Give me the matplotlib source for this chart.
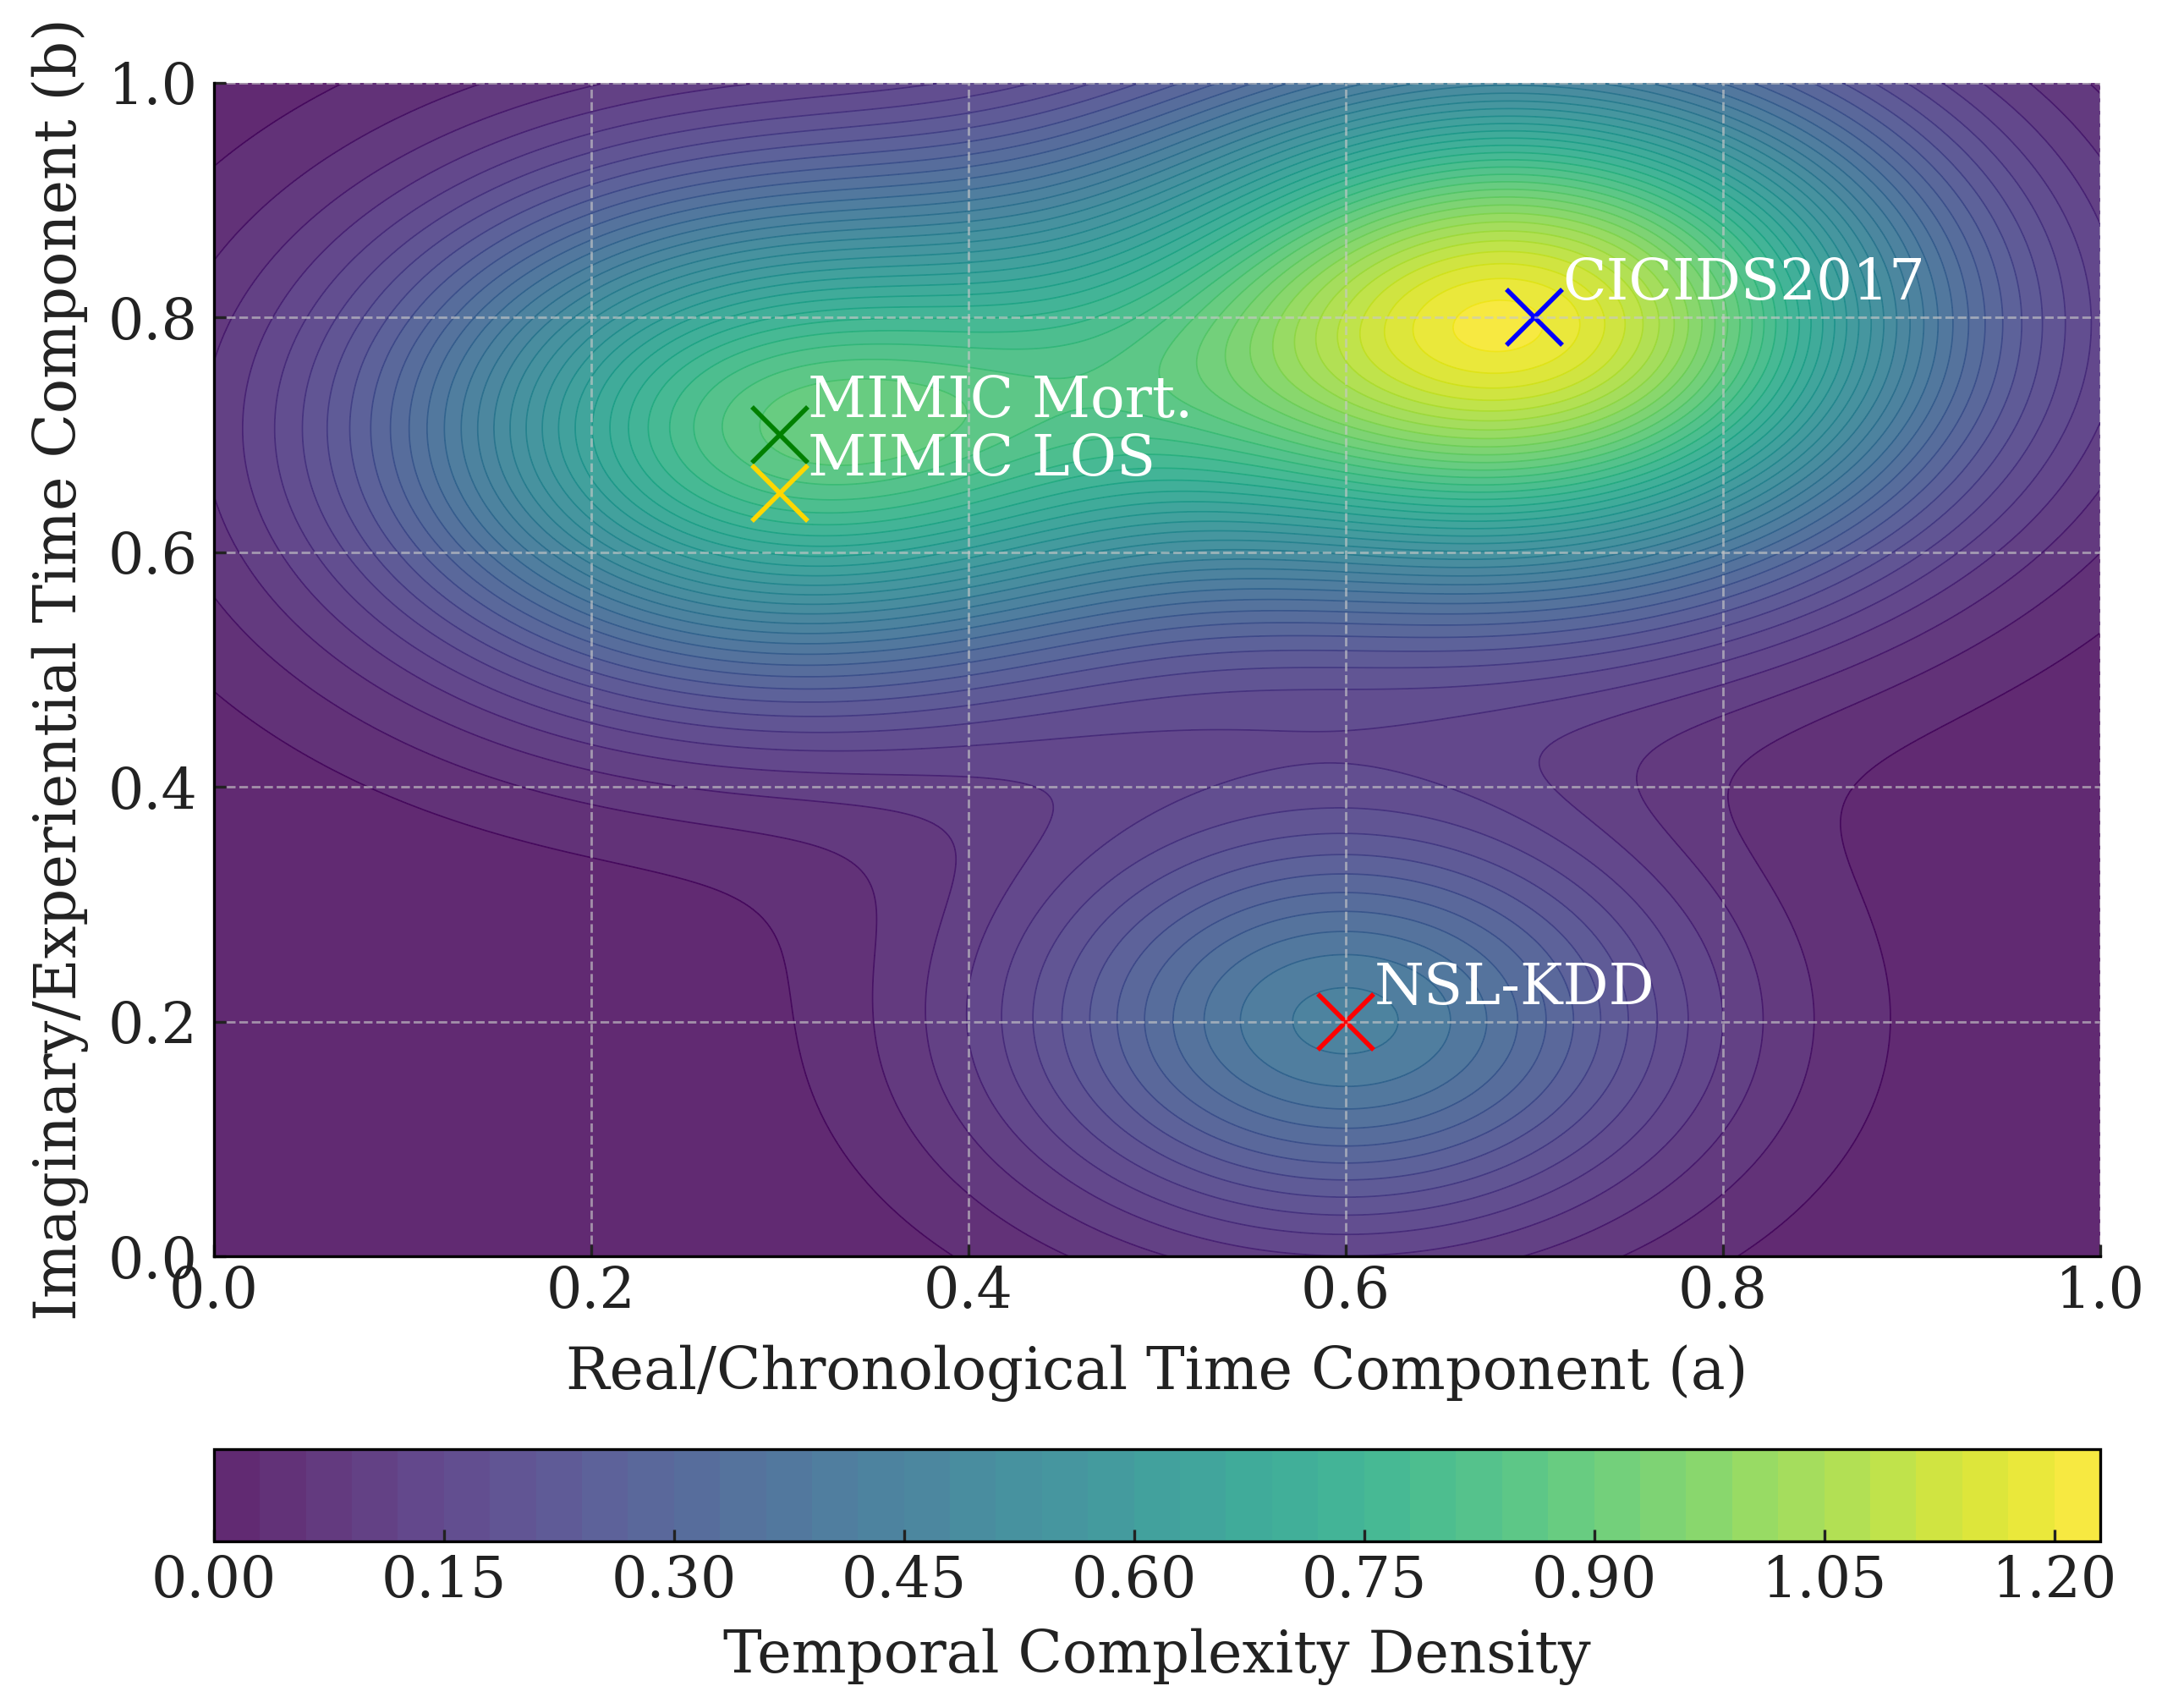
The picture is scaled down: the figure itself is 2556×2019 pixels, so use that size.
# density map of temporal complexity with the benchmark datasets marked on top

import numpy as np
import matplotlib
matplotlib.use('Agg')
import matplotlib.pyplot as plt

plt.rcParams['font.family'] = ['DejaVu Serif']

# datasets, positions
names = ['CICIDS2017', 'NSL-KDD', 'MIMIC Mort.', 'MIMIC LOS']
real_part = [0.7, 0.6, 0.3, 0.3]
imag_part = [0.8, 0.2, 0.7, 0.65]
marker_colors = ['blue', 'red', 'green', 'gold']

# estimated bumps of the density, the last one is the unmarked ridge between the upper two
bump_x = [0.69, 0.6, 0.3, 0.3, 0.45]
bump_y = [0.795, 0.2, 0.71, 0.65, 0.7]
bump_heights = [1.19, 0.43, 0.76, 0.07, 0.07]
bump_widths = [0.15, 0.125, 0.145, 0.145, 0.1]

x_ticks = [0.0, 0.2, 0.4, 0.6, 0.8, 1.0]
cbar_ticks = [0.00, 0.15, 0.30, 0.45, 0.60, 0.75, 0.90, 1.05, 1.20]

x = np.linspace(0, 1, 400)
y = np.linspace(0, 1, 400)
X, Y = np.meshgrid(x, y)
Z = np.zeros_like(X)
for a, b, h, w in zip(bump_x, bump_y, bump_heights, bump_widths):
    Z += h * np.exp(-((X - a) ** 2 + (Y - b) ** 2) / (2 * w ** 2))

levels = np.arange(0, 1.2301, 0.03)

fig = plt.figure(figsize=(12.78, 10.095), dpi=200)
ax = fig.add_axes([0.0989, 0.2645, 0.8725, 0.6871])
cax = fig.add_axes([0.0989, 0.0974, 0.8725, 0.054])

cf = ax.contourf(X, Y, Z, levels=levels, cmap='viridis', alpha=0.85, extend='neither')
ax.contour(X, Y, Z, levels=levels, cmap='viridis', linewidths=0.6)

for name, a, b, c in zip(names, real_part, imag_part, marker_colors):
    ax.plot(a, b, 'x', color=c, markersize=23.5, markeredgewidth=2.0)
    ax.text(a + 0.015, b + 0.015, name, color='white', fontsize=24.3)

ax.set_xlim(0, 1)
ax.set_ylim(0, 1)
ax.set_xticks(x_ticks)
ax.set_yticks(x_ticks)
ax.grid(True, color='#c8c8c8', alpha=0.65, linestyle='--', linewidth=1.0)
ax.set_axisbelow(False)
ax.tick_params(direction='in', length=5, width=1.2, labelsize=24, colors='#222222')
ax.tick_params(axis='y', pad=7)
ax.spines['top'].set_visible(False)
ax.spines['right'].set_visible(False)
for side in ['left', 'bottom']:
    ax.spines[side].set_linewidth(1.2)
    ax.spines[side].set_zorder(5)
ax.set_xlabel('Real/Chronological Time Component (a)', fontsize=24.7, color='#222222', labelpad=10.5)
ax.set_ylabel('Imaginary/Experiential Time Component (b)', fontsize=24.7, color='#222222', labelpad=8)

cbar = fig.colorbar(cf, cax=cax, orientation='horizontal')
cbar.set_ticks(cbar_ticks)
cbar.ax.tick_params(direction='in', length=5, width=1.2, labelsize=24, colors='#222222', pad=5)
cbar.outline.set_linewidth(1.2)
cbar.set_label('Temporal Complexity Density', fontsize=24.7, color='#222222', labelpad=8.5)

fig.savefig('out.png', dpi=200)
